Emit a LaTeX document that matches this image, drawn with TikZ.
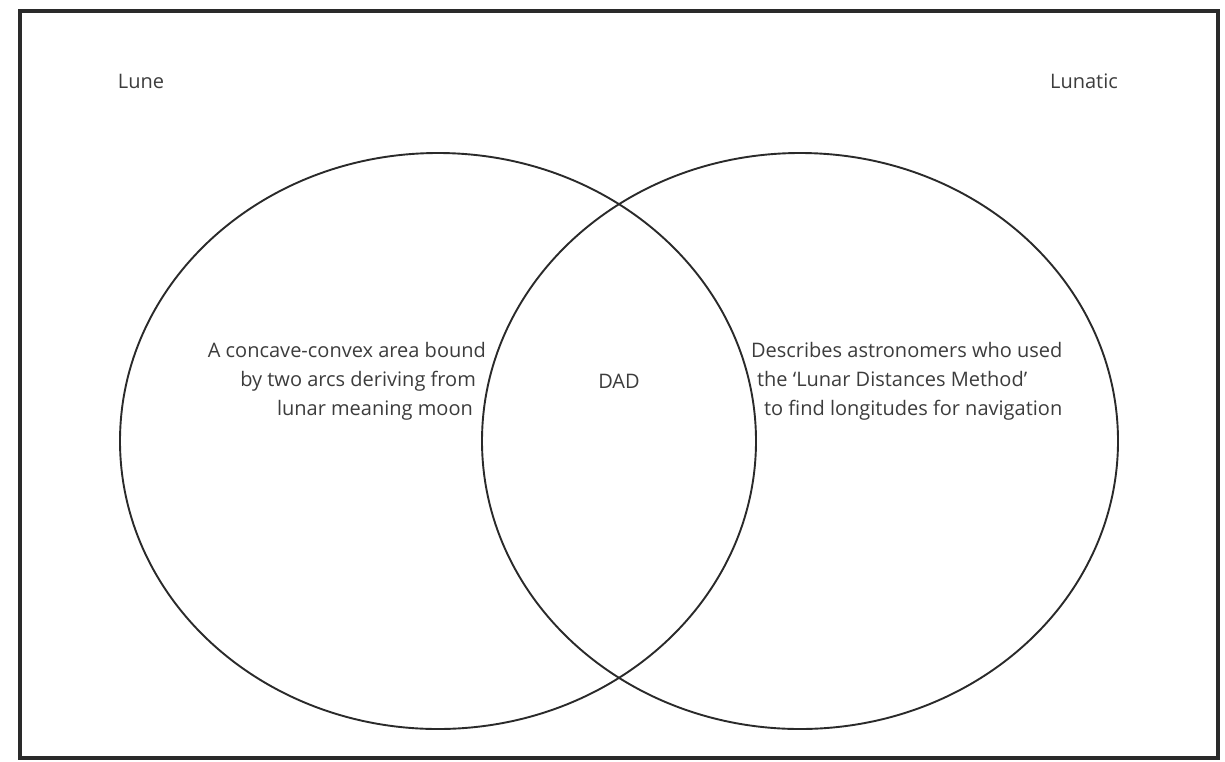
\documentclass[tikz,border=0pt]{standalone}
\usepackage{fontspec}
\setmainfont{Open Sans}
\usepackage{tikz}
\usetikzlibrary{shapes.geometric}
\usetikzlibrary{positioning}
\definecolor{inkline}{HTML}{2A2A2A}
\definecolor{inktext}{HTML}{3C3C3C}

\begin{document}
\begin{tikzpicture}[x=1pt, y=-1pt,
    setnode/.style={ellipse, draw=inkline, line width=1.9pt, inner sep=0pt,
      minimum width=636pt, minimum height=576pt},
    txt/.style={text=inktext, inner sep=0pt, font=\fontsize{20}{29}\selectfont}]

  \useasboundingbox (0,0) rectangle (1225,761);
  \draw[inkline, line width=3.5pt] (20,11) rectangle (1218,758);

  % Define nodes
  \node[setnode] (lune) at (438,441) {};
  \node[setnode] (lunatic) at (800,441) {};

  \node[txt] (dad) at (619,381) {DAD};

  \node[txt, align=right, left=112pt of dad] (lunetext)
    {A concave-convex area bound\\
     by two arcs deriving from\mbox{\hspace{10pt}}\\
     lunar meaning moon\mbox{\hspace{13pt}}};
  \node[txt, align=left, right=111pt of dad] (lunatictext)
    {Describes astronomers who used\\
     \mbox{\hspace{6pt}}the ‘Lunar Distances Method’\\
     \mbox{\hspace{13pt}}to find longitudes for navigation};

  \node[txt] (lunelabel) at (141,81) {Lune};
  \node[txt] (lunaticlabel) at (1084,81) {Lunatic};

\end{tikzpicture}
\end{document}
